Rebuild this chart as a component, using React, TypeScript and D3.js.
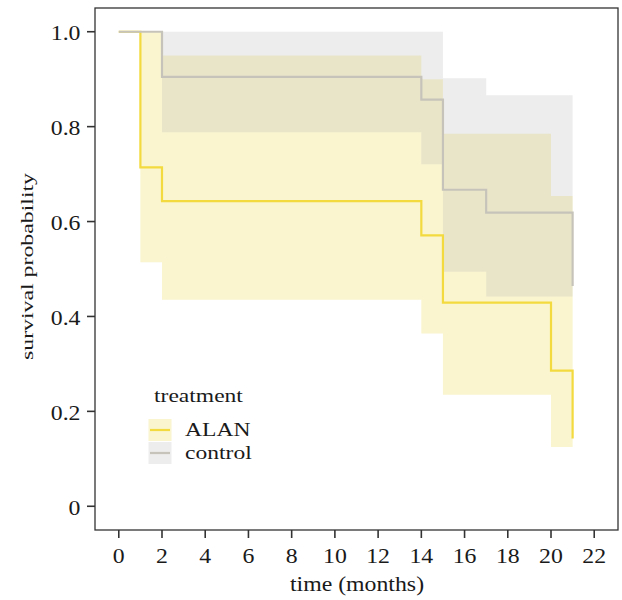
import React from "react";
import * as d3 from "d3";

// Kaplan-Meier estimates
const ALAN_TIME = [0, 1, 2, 14, 15, 20, 21];
const ALAN_SURV = [1, 0.714, 0.643, 0.571, 0.429, 0.286, 0.143];
// confidence band per interval [t_i, t_i+1)
const ALAN_UPPER = [1, 1, 0.95, 0.9, 0.785, 0.654];
const ALAN_LOWER = [1, 0.514, 0.435, 0.364, 0.235, 0.125];

const CONTROL_TIME = [0, 2, 14, 15, 17, 21];
const CONTROL_SURV = [1, 0.905, 0.857, 0.667, 0.619, 0.464];
const CONTROL_UPPER = [1, 1, 1, 0.902, 0.866];
const CONTROL_LOWER = [1, 0.788, 0.721, 0.494, 0.442];

const X_TICKS = [0, 2, 4, 6, 8, 10, 12, 14, 16, 18, 20, 22];
const Y_TICKS = [0, 0.2, 0.4, 0.6, 0.8, 1.0];
const Y_TICK_LABELS = ["0", "0.2", "0.4", "0.6", "0.8", "1.0"];

const GROUPS = ["ALAN", "control"];

const W = 622;
const H = 600;
const panel = { left: 95, right: 618, top: 8, bottom: 530 };

const FONT = "'Liberation Serif', 'Times New Roman', serif";
const INK = "#333333";
const YELLOW = "#f3da3e";
const YELLOW_FILL = "#ebd73f";
const GREY = "#c6c4ba";
const GREY_FILL = "#b9b9b9";
const FILL_OPACITY = 0.25;

type Pt = { t: number; s: number };
type Band = { t: number; lo: number; hi: number };

function linePoints(time: number[], surv: number[]): Pt[] {
  return time.map((t, i) => ({ t, s: surv[i] }));
}

function bandPoints(time: number[], lower: number[], upper: number[]): Band[] {
  const pts = lower.map((lo, i) => ({ t: time[i], lo, hi: upper[i] }));
  const last = lower.length - 1;
  pts.push({ t: time[last + 1], lo: lower[last], hi: upper[last] });
  return pts;
}

// stretched serif text, the original glyphs run wider than Times
function Txt({
  x,
  y,
  size,
  sx = 1.18,
  anchor = "start",
  children,
}: {
  x: number;
  y: number;
  size: number;
  sx?: number;
  anchor?: "start" | "middle" | "end";
  children: React.ReactNode;
}) {
  return (
    <text
      transform={`translate(${x},${y}) scale(${sx},1)`}
      fontFamily={FONT}
      fontSize={size}
      textAnchor={anchor}
      fill="#1a1a1a"
    >
      {children}
    </text>
  );
}

export default function App() {
  const x = d3.scaleLinear().domain([-1.1, 23.1]).range([panel.left, panel.right]);
  const y = d3.scaleLinear().domain([-0.05, 1.05]).range([panel.bottom, panel.top]);

  const line = d3
    .line<Pt>()
    .x((d) => x(d.t))
    .y((d) => y(d.s))
    .curve(d3.curveStepAfter);

  const area = d3
    .area<Band>()
    .x((d) => x(d.t))
    .y0((d) => y(d.lo))
    .y1((d) => y(d.hi))
    .curve(d3.curveStepAfter);

  const alanBand = bandPoints(ALAN_TIME, ALAN_LOWER, ALAN_UPPER);
  const controlBand = bandPoints(CONTROL_TIME, CONTROL_LOWER, CONTROL_UPPER);

  const colors = d3.scaleOrdinal<string, string>().domain(GROUPS).range([YELLOW, GREY]);
  const fills = d3.scaleOrdinal<string, string>().domain(GROUPS).range([YELLOW_FILL, GREY_FILL]);

  return (
    <svg
      width={W}
      height={H}
      style={{ position: "absolute", left: 0, top: 0, background: "#fff" }}
    >
      {/* confidence ribbons */}
      <path d={area(alanBand) || ""} fill={YELLOW_FILL} fillOpacity={FILL_OPACITY} />
      <path d={area(controlBand) || ""} fill={GREY_FILL} fillOpacity={FILL_OPACITY} />

      {/* survival curves */}
      <path
        d={line(linePoints(ALAN_TIME, ALAN_SURV)) || ""}
        fill="none"
        stroke={YELLOW}
        strokeWidth={2.2}
      />
      <path
        d={line(linePoints(CONTROL_TIME, CONTROL_SURV)) || ""}
        fill="none"
        stroke={GREY}
        strokeWidth={2.2}
      />

      {/* panel border */}
      <rect
        x={panel.left}
        y={panel.top}
        width={panel.right - panel.left}
        height={panel.bottom - panel.top}
        fill="none"
        stroke={INK}
        strokeWidth={1.3}
      />

      {/* y axis */}
      {Y_TICKS.map((v, i) => (
        <g key={`y${v}`}>
          <line x1={panel.left - 8} x2={panel.left} y1={y(v)} y2={y(v)} stroke={INK} strokeWidth={1.6} />
          <Txt x={80.5} y={y(v) + 8.5} size={20.5} sx={1.16} anchor="end">
            {Y_TICK_LABELS[i]}
          </Txt>
        </g>
      ))}

      {/* x axis */}
      {X_TICKS.map((v) => (
        <g key={`x${v}`}>
          <line x1={x(v)} x2={x(v)} y1={panel.bottom} y2={panel.bottom + 8} stroke={INK} strokeWidth={1.6} />
          <Txt x={x(v)} y={562.5} size={20.5} sx={1.16} anchor="middle">
            {v}
          </Txt>
        </g>
      ))}

      <Txt x={357} y={591} size={20} sx={1.19} anchor="middle">
        time (months)
      </Txt>

      <text
        transform={`translate(33,${(173 + 360) / 2}) rotate(-90)`}
        fontFamily={FONT}
        fontSize={17}
        textAnchor="middle"
        textLength={187}
        lengthAdjust="spacingAndGlyphs"
        fill="#1a1a1a"
      >
        survival probability
      </text>

      {/* legend */}
      <Txt x={154} y={401.5} size={19} sx={1.24}>
        treatment
      </Txt>
      {GROUPS.map((g, i) => {
        const top = 419 + i * 23;
        return (
          <g key={g}>
            <rect x={148.5} y={top} width={23} height={22} fill={fills(g)} fillOpacity={FILL_OPACITY} />
            <line x1={150} x2={170} y1={top + 11} y2={top + 11} stroke={colors(g)} strokeWidth={2.2} />
            <Txt x={185} y={top + 16.5} size={19} sx={1.24}>
              {g}
            </Txt>
          </g>
        );
      })}
    </svg>
  );
}
